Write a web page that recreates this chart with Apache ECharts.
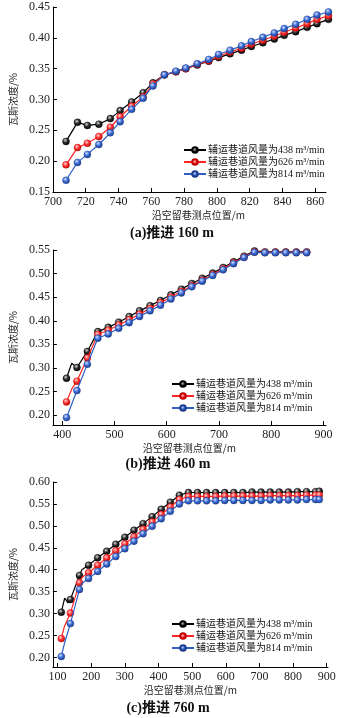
<!DOCTYPE html>
<html><head><meta charset="utf-8">
<script src="https://cdn.jsdelivr.net/npm/echarts@6/dist/echarts.min.js"></script>
<style>html,body{margin:0;padding:0;background:#fff}#c{width:342px;height:718px}</style>
</head><body><div id="c"></div>
<script>
// ---------- data ----------
const seriesNames = ['辅运巷道风量为438 m³/min', '辅运巷道风量为626 m³/min', '辅运巷道风量为814 m³/min'];
const captions = ['(a)推进 160 m', '(b)推进 460 m', '(c)推进 760 m'];
const yAxisName = '瓦斯浓度/%';
const xAxisName = '沿空留巷测点位置/m';

// (a) advance 160 m
const xA = [708,715,721,728,735,741,748,755,761,768,775,781,788,795,801,808,815,821,828,835,841,848,855,861,868];
const blackA = [0.232,0.263,0.258,0.260,0.269,0.282,0.296,0.311,0.327,0.340,0.345,0.350,0.356,0.362,0.368,0.374,0.380,0.386,0.392,0.398,0.404,0.410,0.417,0.423,0.430];
const redA = [0.194,0.222,0.229,0.240,0.255,0.272,0.289,0.304,0.325,0.340,0.345,0.350,0.357,0.363,0.370,0.377,0.383,0.390,0.396,0.403,0.409,0.416,0.423,0.430,0.436];
const blueA = [0.169,0.198,0.211,0.227,0.246,0.264,0.284,0.302,0.322,0.340,0.346,0.351,0.358,0.365,0.373,0.380,0.387,0.394,0.401,0.408,0.415,0.422,0.430,0.437,0.442];
const xTicksA = [700,720,740,760,780,800,820,840,860];
const yTicksA = [0.15,0.20,0.25,0.30,0.35,0.40,0.45];

// (b) advance 460 m
const xB = [408,428,448,468,488,508,528,548,568,588,608,628,648,668,688,708,728,748,768,788,808,828,848,868];
const blackB = [0.278,0.301,0.335,0.377,0.386,0.397,0.409,0.421,0.432,0.443,0.455,0.467,0.479,0.490,0.501,0.513,0.525,0.537,0.548,0.546,0.546,0.546,0.546,0.546];
const redB = [0.228,0.272,0.321,0.371,0.380,0.391,0.402,0.414,0.426,0.438,0.450,0.462,0.474,0.486,0.498,0.510,0.523,0.535,0.546,0.545,0.545,0.545,0.545,0.545];
const blueB = [0.195,0.252,0.308,0.363,0.372,0.384,0.396,0.409,0.421,0.433,0.446,0.459,0.472,0.484,0.496,0.508,0.521,0.534,0.545,0.544,0.544,0.544,0.544,0.544];
const kinkXB = [418];
const kinkBlackB = [0.310];
const kinkRedB = [0.255];
const kinkBlueB = [0.223];
const xTicksB = [400,500,600,700,800,900];
const yTicksB = [0.20,0.25,0.30,0.35,0.40,0.45,0.50,0.55];

// (c) advance 760 m
const xC = [111,138,165,192,219,246,273,300,327,354,381,408,435,462,489,516,543,570,597,624,651,678,705,732,759,786,813,840,867,878];
const blackC = [0.303,0.332,0.387,0.410,0.427,0.442,0.458,0.474,0.490,0.505,0.521,0.538,0.554,0.570,0.576,0.576,0.576,0.576,0.576,0.576,0.576,0.577,0.577,0.577,0.577,0.577,0.578,0.578,0.578,0.579];
const redC = [0.243,0.301,0.370,0.393,0.410,0.427,0.443,0.459,0.475,0.492,0.509,0.526,0.543,0.560,0.567,0.567,0.567,0.567,0.568,0.568,0.568,0.568,0.568,0.569,0.569,0.569,0.569,0.570,0.570,0.570];
const blueC = [0.202,0.277,0.355,0.380,0.396,0.413,0.430,0.448,0.465,0.482,0.499,0.516,0.533,0.550,0.557,0.557,0.557,0.557,0.558,0.558,0.558,0.558,0.558,0.559,0.559,0.559,0.559,0.560,0.560,0.560];
const kinkXBlackC = [121,131,172];
const kinkBlackC = [0.335,0.324,0.400];
const kinkXRedC = [120,173];
const kinkRedC = [0.270,0.383];
const kinkXBlueC = [120,173];
const kinkBlueC = [0.231,0.369];
const xTicksC = [100,200,300,400,500,600,700,800,900];
const yTicksC = [0.20,0.25,0.30,0.35,0.40,0.45,0.50,0.55,0.60];

// ---------- styling / build ----------
const SERIF = '"Liberation Serif","Times New Roman","Noto Sans CJK SC"';
const CJK = '"Noto Sans CJK SC","Liberation Serif"';
function sphere(light, base, dark) {
  return {type: 'radial', x: 0.4, y: 0.35, r: 0.7,
    colorStops: [{offset: 0, color: light}, {offset: 0.45, color: base}, {offset: 1, color: dark}]};
}
const styles = [
  {line: '#000000', sym: sphere('#d8d8d8', '#2a2a2a', '#000000'), border: '#000'},
  {line: '#ff2424', sym: sphere('#ffd6d6', '#ff3535', '#b40000'), border: '#c00000'},
  {line: '#2f5fc6', sym: sphere('#d4e2ff', '#3c6cd6', '#17347e'), border: '#1c3c8c'}
];

function buildData(xs, ys, kx, ky) {
  const pts = xs.map((x, i) => ({value: [x, ys[i]]}));
  if (kx) kx.forEach((x, i) => pts.push({value: [x, ky[i]], symbol: 'none'}));
  pts.sort((a, b) => a.value[0] - b.value[0]);
  return pts;
}

function mkSeries(g, idx, data) {
  const s = styles[idx];
  return {
    type: 'line', name: seriesNames[idx], xAxisIndex: g, yAxisIndex: g,
    data: data, symbol: 'circle', symbolSize: 7, showAllSymbol: true,
    clip: false, animation: false,
    lineStyle: {color: s.line, width: 1.2},
    itemStyle: {color: s.sym, borderColor: s.border, borderWidth: 0.4},
    emphasis: {disabled: true}, z: 2 + idx
  };
}

function xAxisCfg(g, min, max, ticks, padLeft) {
  return {
    type: 'value', gridIndex: g, min: min, max: max,
    name: xAxisName, nameLocation: 'middle', nameGap: 18,
    nameTextStyle: {fontFamily: CJK, fontSize: 10, color: '#222', padding: [0, 0, 0, padLeft || 0]},
    axisLine: {onZero: false, lineStyle: {color: '#000', width: 1}},
    axisTick: {inside: true, length: 4, customValues: ticks, lineStyle: {color: '#000'}},
    axisLabel: {customValues: ticks, fontFamily: SERIF, fontSize: 12, color: '#222', margin: 4,
      formatter: v => String(Math.round(v))},
    splitLine: {show: false}
  };
}
function yAxisCfg(g, min, max, ticks, gap) {
  return {
    type: 'value', gridIndex: g, min: min, max: max,
    name: yAxisName, nameLocation: 'middle', nameGap: gap,
    nameTextStyle: {fontFamily: CJK, fontSize: 10, color: '#222'},
    axisLine: {show: true, onZero: false, lineStyle: {color: '#000', width: 1}},
    axisTick: {show: true, inside: true, length: 4, customValues: ticks, lineStyle: {color: '#000'}},
    axisLabel: {customValues: ticks, fontFamily: SERIF, fontSize: 12, color: '#222', margin: 3,
      formatter: v => v.toFixed(2)},
    splitLine: {show: false}
  };
}
function legendCfg(left, top) {
  return {
    left: left, top: top, orient: 'vertical', itemWidth: 22, itemHeight: 7, itemGap: 2,
    textStyle: {fontFamily: SERIF, fontSize: 10, color: '#111', padding: [0, 0, 0, -3]},
    data: seriesNames, selectedMode: false
  };
}
function caption(text, cx, cy) {
  return {type: 'text', x: cx, y: cy,
    style: {text: text, font: 'bold 14px ' + SERIF, fill: '#111', align: 'center', verticalAlign: 'middle'}};
}

const option = {
  backgroundColor: '#fff',
  animation: false,
  grid: [
    {left: 46, top: 7, width: 280, height: 185},
    {left: 41, top: 250, width: 285, height: 175},
    {left: 39, top: 482, width: 289, height: 185}
  ],
  xAxis: [
    xAxisCfg(0, 700, 866.5, xTicksA, 18),
    xAxisCfg(1, 382, 905, xTicksB),
    xAxisCfg(2, 86, 904, xTicksC)
  ],
  yAxis: [
    yAxisCfg(0, 0.15, 0.45, yTicksA, 34),
    yAxisCfg(1, 0.179, 0.55, yTicksB, 29),
    yAxisCfg(2, 0.178, 0.60, yTicksC, 27)
  ],
  legend: [legendCfg(178, 140), legendCfg(166, 374), legendCfg(166, 614)],
  series: [
    mkSeries(0, 0, buildData(xA, blackA)),
    mkSeries(0, 1, buildData(xA, redA)),
    mkSeries(0, 2, buildData(xA, blueA)),
    mkSeries(1, 0, buildData(xB, blackB, kinkXB, kinkBlackB)),
    mkSeries(1, 1, buildData(xB, redB, kinkXB, kinkRedB)),
    mkSeries(1, 2, buildData(xB, blueB, kinkXB, kinkBlueB)),
    mkSeries(2, 0, buildData(xC, blackC, kinkXBlackC, kinkBlackC)),
    mkSeries(2, 1, buildData(xC, redC, kinkXRedC, kinkRedC)),
    mkSeries(2, 2, buildData(xC, blueC, kinkXBlueC, kinkBlueC))
  ],
  graphic: [caption(captions[0], 172, 233), caption(captions[1], 168, 464), caption(captions[2], 168, 708)]
};
const chart = echarts.init(document.getElementById('c'), null, {renderer: 'canvas'});
chart.setOption(option);
</script>
</body></html>
